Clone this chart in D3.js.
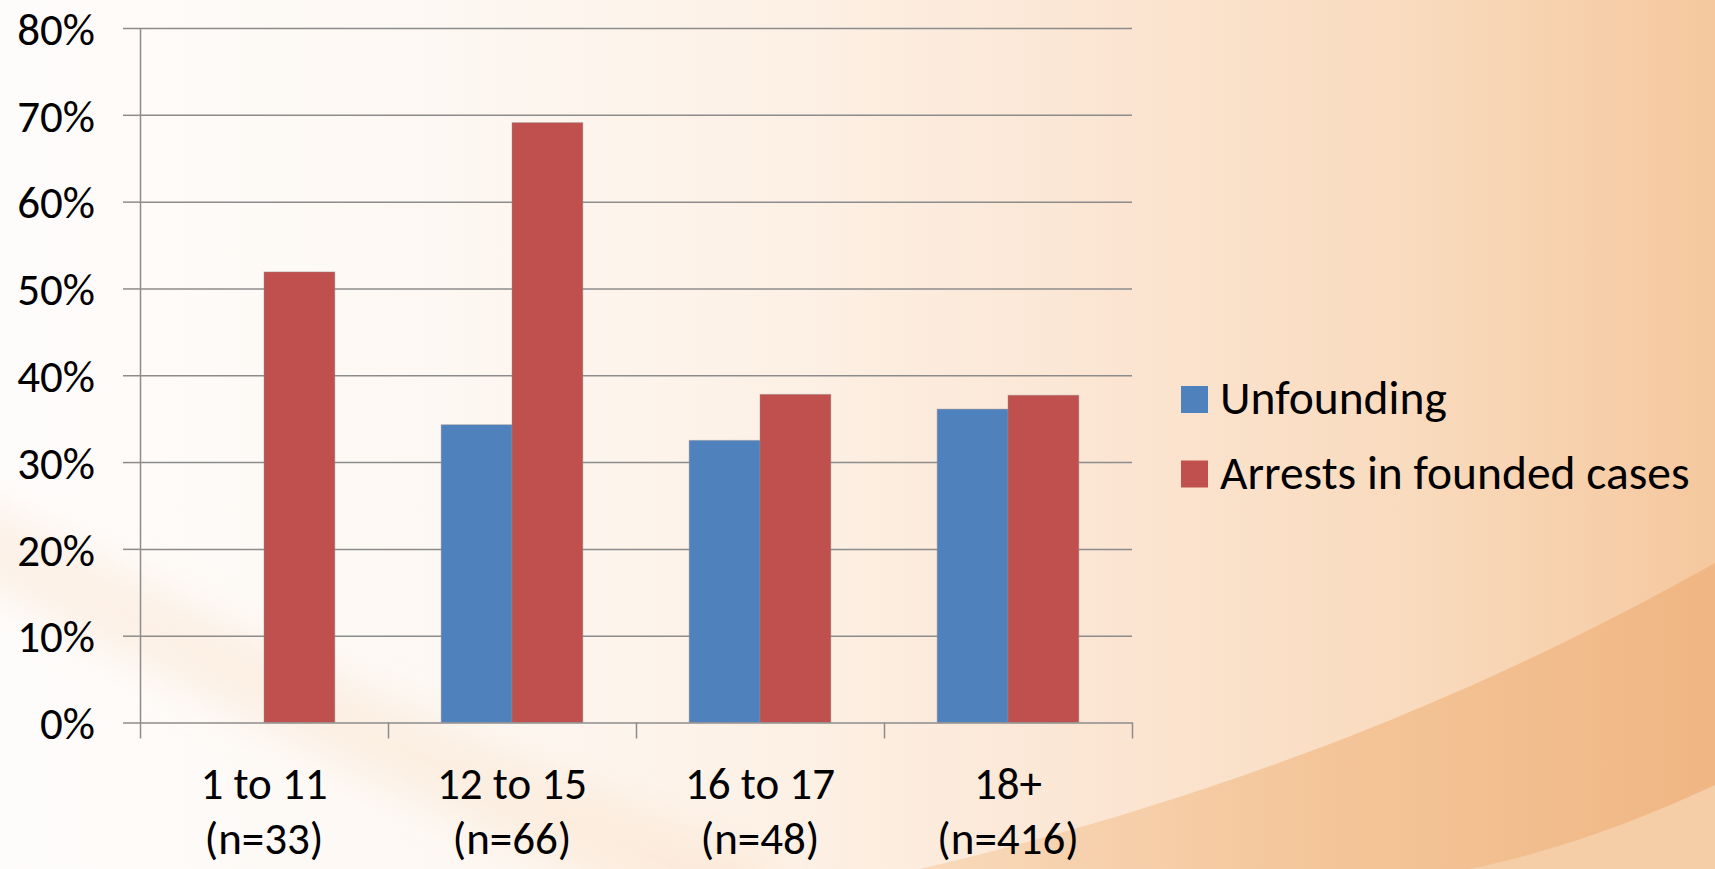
<!DOCTYPE html>
<html>
<head>
<meta charset="utf-8">
<script src="https://cdn.jsdelivr.net/npm/d3@7"></script>
<style>
  html, body { margin: 0; padding: 0; background: #fefcfa; }
  svg { display: block; }
  text { font-family: Carlito, Lato, "Open Sans", sans-serif; fill: #000; }
</style>
</head>
<body>
<svg id="chart" width="1715" height="869"></svg>
<script>
// Age groups along the x axis, with their sample sizes
const categories = ["1 to 11", "12 to 15", "16 to 17", "18+"];
const sampleSizes = ["(n=33)", "(n=66)", "(n=48)", "(n=416)"];

// Series
const seriesNames = ["Unfounding", "Arrests in founded cases"];
const unfounding = [null, 0.343, 0.325, 0.361];
const arrests = [0.519, 0.691, 0.378, 0.377];
const seriesColors = ["#4F81BD", "#C0504D"];

// Value axis ticks
const yTicks = [0, 0.1, 0.2, 0.3, 0.4, 0.5, 0.6, 0.7, 0.8];

const W = 1715, H = 869;
const plot = { left: 140, right: 1132, top: 28, bottom: 722.5 };

const svg = d3.select("#chart");
const defs = svg.append("defs");

// ---- slide background ----
const bgGrad = defs.append("linearGradient").attr("id", "bgGrad")
  .attr("x1", 0).attr("x2", 1).attr("y1", 0).attr("y2", 0);
[[0, "#fefcfb"], [0.25, "#fdf8f3"], [0.45, "#fdf1e6"], [0.65, "#fbe5d2"], [0.82, "#f9dbbe"], [1, "#f5c89e"]]
  .forEach(([o, c]) => bgGrad.append("stop").attr("offset", o).attr("stop-color", c));

const swooshGrad = defs.append("linearGradient").attr("id", "swooshGrad")
  .attr("x1", 0).attr("x2", 1).attr("y1", 0).attr("y2", 0);
[[0, "#f8d6b5"], [0.5, "#f3c192"], [1, "#efb37e"]]
  .forEach(([o, c]) => swooshGrad.append("stop").attr("offset", o).attr("stop-color", c));

const blur = defs.append("filter").attr("id", "soft")
  .attr("x", "-20%").attr("y", "-20%").attr("width", "140%").attr("height", "140%");
blur.append("feGaussianBlur").attr("stdDeviation", 18);

const bg = svg.append("g").attr("class", "background");
bg.append("rect").attr("width", W).attr("height", H).attr("fill", "url(#bgGrad)");

// faint peach sweep in the lower left
bg.append("path")
  .attr("d", "M -60 520 C 120 610, 330 730, 760 900")
  .attr("fill", "none")
  .attr("stroke", "#f7d9bd")
  .attr("stroke-opacity", 0.3)
  .attr("stroke-width", 80)
  .attr("filter", "url(#soft)");

// darker arc in the lower right
bg.append("path")
  .attr("d", "M 1715 563 C 1560 650, 1300 780, 920 869 L 1715 869 Z")
  .attr("fill", "url(#swooshGrad)")
  .attr("opacity", 0.85);

// lighter band along the bottom-right corner
bg.append("path")
  .attr("d", "M 1715 785 C 1640 820, 1560 850, 1470 869 L 1715 869 Z")
  .attr("fill", "#f5cda6");

// ---- scales ----
const x0 = d3.scaleBand().domain(categories).range([plot.left, plot.right]).padding(0);
// gap between groups is 150% of a bar width
const groupWidth = x0.bandwidth() * 2 / 3.5;
const x1 = d3.scaleBand().domain(seriesNames).range([0, groupWidth]).padding(0);
const y = d3.scaleLinear().domain([0, 0.8]).range([plot.bottom, plot.top]);

const gridColor = "#8c8c8c";

// gridlines
svg.append("g")
  .attr("transform", `translate(${plot.left},0)`)
  .call(d3.axisLeft(y).tickValues(yTicks.slice(1)).tickSize(-(plot.right - plot.left)).tickFormat(""))
  .call(g => g.select(".domain").remove())
  .call(g => g.selectAll("line").attr("stroke", gridColor).attr("stroke-width", 1.5));

// bars
const rows = categories.map((c, i) => ({ cat: c, values: [unfounding[i], arrests[i]] }));
const groups = svg.append("g").selectAll("g").data(rows).join("g")
  .attr("transform", d => `translate(${x0(d.cat) + (x0.bandwidth() - groupWidth) / 2},0)`);
groups.selectAll("rect")
  .data(d => d.values.map((v, k) => ({ name: seriesNames[k], v, k })).filter(e => e.v !== null))
  .join("rect")
  .attr("x", e => x1(e.name))
  .attr("width", x1.bandwidth())
  .attr("y", e => y(e.v))
  .attr("height", e => y(0) - y(e.v))
  .attr("fill", e => seriesColors[e.k])
  .attr("stroke", "#9a9090")
  .attr("stroke-opacity", 0.45)
  .attr("stroke-width", 1);

// value axis
svg.append("g")
  .attr("transform", `translate(${plot.left},0)`)
  .call(d3.axisLeft(y).tickValues(yTicks).tickFormat(d3.format(".0%")).tickSizeInner(17).tickSizeOuter(0).tickPadding(28))
  .call(g => g.select(".domain").attr("stroke", gridColor).attr("stroke-width", 1.5))
  .call(g => g.selectAll("line").attr("stroke", gridColor).attr("stroke-width", 1.5))
  .call(g => g.selectAll("text").attr("font-size", 45).attr("dy", "0.36em"));

// category axis: tick marks at group boundaries
const xb = d3.scaleLinear().domain([0, categories.length]).range([plot.left, plot.right]);
svg.append("g")
  .attr("transform", `translate(0,${plot.bottom})`)
  .call(d3.axisBottom(xb).tickValues(d3.range(categories.length + 1)).tickFormat("").tickSizeInner(16).tickSizeOuter(0))
  .call(g => g.select(".domain").attr("stroke", gridColor).attr("stroke-width", 1.5))
  .call(g => g.selectAll("line").attr("stroke", gridColor).attr("stroke-width", 1.5));

// category labels, two lines each
const labels = svg.append("g").selectAll("text").data(categories).join("text")
  .attr("text-anchor", "middle")
  .attr("font-size", 45)
  .attr("x", d => x0(d) + x0.bandwidth() / 2)
  .attr("y", 799);
labels.append("tspan").text(d => d);
labels.append("tspan")
  .attr("x", d => x0(d) + x0.bandwidth() / 2)
  .attr("dy", 55)
  .text((d, i) => sampleSizes[i]);

// legend
const legend = svg.append("g").attr("transform", "translate(1181,386)");
const items = legend.selectAll("g").data(seriesNames).join("g")
  .attr("transform", (d, i) => `translate(0,${i * 74.5})`);
items.append("rect").attr("width", 27).attr("height", 27)
  .attr("fill", (d, i) => seriesColors[i]);
items.append("text").attr("x", 39).attr("y", 28)
  .attr("font-size", 47.5).text(d => d);
</script>
</body>
</html>
